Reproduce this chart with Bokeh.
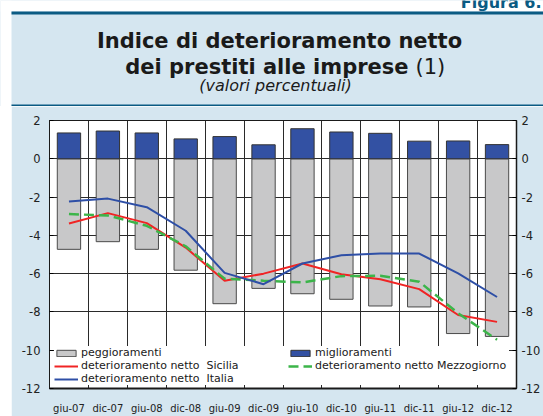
from bokeh.plotting import figure
from bokeh.layouts import column
from bokeh.models import (Range1d, FixedTicker, LinearAxis, Legend, LegendItem,
                          ColumnDataSource)
from bokeh.core.properties import value
from bokeh.embed import file_html
from bokeh.resources import INLINE
import numpy as np

# ---------------- data ----------------
categories = ["giu-07", "dic-07", "giu-08", "dic-08", "giu-09", "dic-09",
              "giu-10", "dic-10", "giu-11", "dic-11", "giu-12", "dic-12"]
miglioramenti = [1.35, 1.45, 1.35, 1.04, 1.16, 0.73, 1.57, 1.40, 1.33, 0.92, 0.93, 0.74]
peggioramenti = [-4.73, -4.33, -4.73, -5.82, -7.57, -6.77, -7.05, -7.34, -7.69, -7.74, -9.13, -9.28]
sicilia = [-3.38, -2.84, -3.36, -4.64, -6.37, -6.00, -5.47, -6.03, -6.29, -6.81, -8.16, -8.52]
mezzogiorno = [-2.89, -2.96, -3.50, -4.57, -6.27, -6.37, -6.46, -6.13, -6.11, -6.42, -8.07, -9.45]
italia = [-2.23, -2.08, -2.53, -3.76, -5.96, -6.55, -5.47, -5.04, -4.95, -4.95, -5.99, -7.22]
y_ticks = [2, 0, -2, -4, -6, -8, -10, -12]
y_tick_labels = ["2", "0", "-2", "-4", "-6", "-8", "-10", "-12"]

figure_tag = "Figura 6."
title_1 = "Indice di deterioramento netto"
title_2 = "dei prestiti alle imprese"
title_2_note = "(1)"
subtitle = "(valori percentuali)"

# ---------------- style ----------------
FONT = "DejaVu Sans"
LIGHT = "#d5e6f0"
RULE = "#0b5b83"
INK = "#1a1a1a"

W, H = 543, 416
PX0, PY0 = 11, 11          # where the coloured panel starts
HDR_BOTTOM = 106           # bottom of header rule
FL, FR, FT, FB = 49, 518, 120, 389   # plot frame on the page

# ---------------- header ----------------
hdr = figure(width=W, height=HDR_BOTTOM,
             x_range=Range1d(0, W), y_range=Range1d(HDR_BOTTOM, 0),
             x_axis_type=None, y_axis_type=None, title_location=None,
             min_border_left=0, min_border_right=0, min_border_top=0, min_border_bottom=0,
             toolbar_location=None, output_backend="svg",
             background_fill_color=LIGHT, border_fill_color=LIGHT, outline_line_color=None)
hdr.frame_align = False
hdr.quad(left=0, right=W, top=0, bottom=PY0, fill_color="white", line_color=None)
hdr.quad(left=0, right=PX0, top=0, bottom=HDR_BOTTOM, fill_color="white", line_color=None)
hdr.quad(left=PX0, right=W, top=PY0, bottom=PY0 + 3, fill_color=RULE, line_color=None)
hdr.quad(left=PX0, right=W, top=HDR_BOTTOM - 2, bottom=HDR_BOTTOM, fill_color=RULE, line_color=None)


def htext(txt, x, y, size, style, align, color=INK):
    hdr.text(x=[x], y=[y], text=[txt], text_font=value(FONT), text_font_size=value(size),
             text_font_style=style, text_align=align, text_baseline="alphabetic",
             text_color=color)


htext(figure_tag, 541, 2, "16px", "bold", "right", RULE)
htext(title_1, 279, 40, "21px", "bold", "center")
htext(title_2, 408, 66, "21px", "bold", "right")
htext(title_2_note, 415, 66, "21px", "normal", "left")
htext(subtitle, 275, 85, "16px", "italic", "center")

# ---------------- main chart ----------------
n = len(categories)
xs = np.arange(n)
src = ColumnDataSource(dict(x=xs, cat=categories, mig=miglioramenti, peg=peggioramenti,
                            sic=sicilia, mez=mezzogiorno, ita=italia))

p = figure(width=W - PX0, height=H - HDR_BOTTOM,
           x_range=Range1d(-0.5, n - 0.5), y_range=Range1d(-12, 2),
           output_backend="svg", toolbar_location=None, title_location=None,
           min_border_left=FL - PX0, min_border_right=W - FR,
           min_border_top=FT - HDR_BOTTOM, min_border_bottom=H - FB,
           border_fill_color=LIGHT, background_fill_color="white",
           outline_line_color=INK, outline_line_width=1,
           margin=(0, 0, 0, PX0))
p.frame_align = False

# grids
p.xgrid.ticker = FixedTicker(ticks=[k + 0.5 for k in range(n - 1)])
p.ygrid.ticker = FixedTicker(ticks=[t for t in y_ticks if -12 < t < 2])
for g in (p.xgrid, p.ygrid):
    g.grid_line_color = "#2a2a2a"
    g.grid_line_width = 1

# x axis
p.xaxis.ticker = FixedTicker(ticks=[int(v) for v in xs])
p.xaxis.major_label_overrides = {int(v): c for v, c in zip(xs, categories)}
p.xaxis.major_tick_line_color = None
p.xaxis.minor_tick_line_color = None
p.xaxis.axis_line_width = 2
p.xaxis.axis_line_color = INK
p.xaxis.major_label_standoff = 8
p.xaxis.major_label_text_font = FONT
p.xaxis.major_label_text_font_size = "10px"
p.xaxis.major_label_text_color = "#222222"

# y axes
p.yaxis.ticker = FixedTicker(ticks=y_ticks)
ry = LinearAxis(ticker=FixedTicker(ticks=y_ticks))
p.add_layout(ry, "right")
for ax, standoff in ((p.yaxis[0], 9), (ry, 5)):
    ax.major_label_overrides = {t: s for t, s in zip(y_ticks, y_tick_labels)}
    ax.major_tick_in = 4
    ax.major_tick_out = 0
    ax.minor_tick_line_color = None
    ax.axis_line_color = INK
    ax.major_label_standoff = standoff
    ax.major_label_text_font = FONT
    ax.major_label_text_font_size = "11.5px"
    ax.major_label_text_color = "#222222"
ry.axis_line_width = 1.5

# bars
r_peg = p.vbar(x="x", top=0, bottom="peg", width=0.6, source=src,
               fill_color="#c8c8c9", line_color="#4a4a4a", line_width=1)
r_mig = p.vbar(x="x", top="mig", bottom=0, width=0.6, source=src,
               fill_color="#3351a3", line_color="#333333", line_width=1)
# lines
r_sic = p.line(x="x", y="sic", source=src, line_color="#f02424", line_width=2)
r_mez = p.line(x="x", y="mez", source=src, line_color="#3cb54a", line_width=2.5, line_dash="10 5")
r_ita = p.line(x="x", y="ita", source=src, line_color="#2e4fa6", line_width=2)

# legends
common = dict(padding=2, spacing=0, margin=0, glyph_width=24, glyph_height=8,
              label_standoff=3, label_height=13, label_text_font=FONT,
              label_text_font_size="11px", label_text_color=INK,
              border_line_color=None)
leg1 = Legend(items=[LegendItem(label="peggioramenti", renderers=[r_peg]),
                     LegendItem(label="deterioramento netto  Sicilia", renderers=[r_sic]),
                     LegendItem(label="deterioramento netto  Italia", renderers=[r_ita])],
              location=(5, 3), label_width=428, background_fill_color="white",
              background_fill_alpha=1, **common)
leg2 = Legend(items=[LegendItem(label="miglioramenti", renderers=[r_mig]),
                     LegendItem(label="deterioramento netto Mezzogiorno", renderers=[r_mez])],
              location=(239, 16), background_fill_alpha=0, **common)
p.add_layout(leg1, "center")
p.add_layout(leg2, "center")

layout = column(hdr, p, spacing=0)
open("out.html", "w").write(file_html(layout, INLINE))
